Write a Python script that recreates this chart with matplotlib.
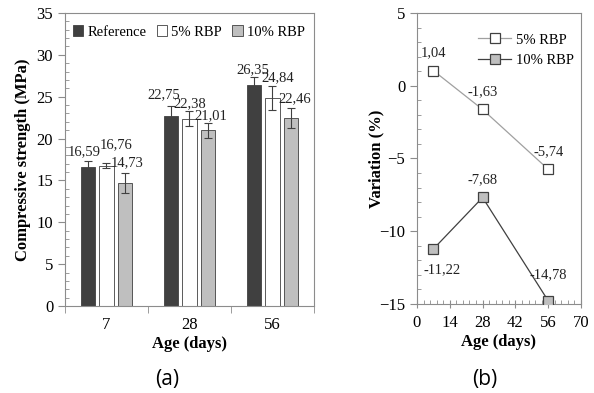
import numpy as np
import matplotlib
matplotlib.use("Agg")
import matplotlib.pyplot as plt
from matplotlib.ticker import MultipleLocator, FixedLocator

plt.rcParams['font.family'] = ['Liberation Serif', 'DejaVu Serif']

# data for panel (a)
ages = ['7', '28', '56']
series = ['Reference', '5% RBP', '10% RBP']
strength = [[16.59, 22.75, 26.35],
            [16.76, 22.38, 24.84],
            [14.73, 21.01, 22.46]]
errors = [[0.7, 1.1, 1.0],
          [0.3, 0.9, 1.4],
          [1.2, 0.9, 1.2]]
bar_colors = ['#404040', '#ffffff', '#bfbfbf']

# data for panel (b)
days = [7, 28, 56]
var_5 = [1.04, -1.63, -5.74]
var_10 = [-11.22, -7.68, -14.78]

# label offsets (points) from the top of each error bar, series x age
label_offs = [[(-3, 7), (-5.5, 8.5), (-1, 5)],
              [(7, 13), (0.5, 5.5), (3.5, 6)],
              [(1.5, 7.5), (2, 5), (3, 7)]]

fig = plt.figure(figsize=(5.94, 3.93), dpi=100)
spine_col = '#8c8c8c'

# ---- panel (a): bars
ax1 = fig.add_axes([0.1094, 0.2214, 0.4192, 0.7455])
x = np.arange(len(ages))
w = 0.17
step = 0.22
for i in range(len(series)):
    pos = x + (i - 1) * step
    ax1.bar(pos, strength[i], w, color=bar_colors[i], edgecolor='#404040',
            linewidth=0.6, label=series[i], zorder=2)
    ax1.errorbar(pos, strength[i], yerr=errors[i], fmt='none', ecolor='#404040',
                 elinewidth=0.8, capsize=3, capthick=0.8, zorder=3)
    for p, v, e, o in zip(pos, strength[i], errors[i], label_offs[i]):
        ax1.annotate(f'{v:.2f}'.replace('.', ','), (p, v + e), xytext=o,
                     textcoords='offset points', ha='center', va='center',
                     fontsize=10.5, color='#222222')

ax1.set_xlim(-0.5, 2.5)
ax1.set_ylim(0, 35)
ax1.set_xticks(x)
ax1.set_xticklabels(ages)
ax1.xaxis.set_minor_locator(FixedLocator([-0.5, 0.5, 1.5, 2.5]))
ax1.yaxis.set_major_locator(MultipleLocator(5))
ax1.yaxis.set_minor_locator(MultipleLocator(1))
ax1.tick_params(axis='x', which='major', direction='in', length=3, labelsize=12, color=spine_col, pad=8)
ax1.tick_params(axis='x', which='minor', direction='out', length=5, color=spine_col)
ax1.tick_params(axis='y', which='major', direction='out', length=5, labelsize=12, color=spine_col)
ax1.tick_params(axis='y', which='minor', direction='in', length=3, color=spine_col)
for s in ax1.spines.values():
    s.set_color(spine_col)
ax1.set_xlabel('Age (days)', fontsize=12, fontweight='bold', labelpad=2)
ax1.set_ylabel('Compressive strength (MPa)', fontsize=12, fontweight='bold', labelpad=4)
ax1.legend(loc='upper left', ncol=3, frameon=False, fontsize=10.5,
           handlelength=0.7, handleheight=0.7, handletextpad=0.3,
           columnspacing=0.7, borderaxespad=0.15, bbox_to_anchor=(0.0, 0.985))

# ---- panel (b): variation
ax2 = fig.add_axes([0.702, 0.2265, 0.2761, 0.7404])
ax2.plot(days, var_5, color='#a0a0a0', linewidth=0.9, marker='s', markersize=7.5,
         markerfacecolor='white', markeredgecolor='#404040', markeredgewidth=0.9,
         label='5% RBP', zorder=3)
ax2.plot(days, var_10, color='#404040', linewidth=0.9, marker='s', markersize=7.5,
         markerfacecolor='#bfbfbf', markeredgecolor='#404040', markeredgewidth=0.9,
         label='10% RBP', zorder=3)
for d, v in zip(days, var_5):
    ax2.annotate(f'{v:.2f}'.replace('.', ','), (d, v), xytext=(0, 13),
                 textcoords='offset points', ha='center', va='center', fontsize=10.5, color='#222222')
offs_10 = [(6, -15), (0, 13), (0, 19)]
for d, v, o in zip(days, var_10, offs_10):
    ax2.annotate(f'{v:.2f}'.replace('.', ','), (d, v), xytext=o,
                 textcoords='offset points', ha='center', va='center', fontsize=10.5, color='#222222')

ax2.set_xlim(0, 70)
ax2.set_ylim(-15, 5)
ax2.xaxis.set_major_locator(MultipleLocator(14))
ax2.xaxis.set_minor_locator(MultipleLocator(2.8))
ax2.yaxis.set_major_locator(MultipleLocator(5))
ax2.yaxis.set_minor_locator(MultipleLocator(1))
ax2.tick_params(axis='x', which='major', direction='inout', length=6, labelsize=12, color=spine_col, pad=5)
ax2.tick_params(axis='x', which='minor', direction='in', length=3, color=spine_col)
ax2.tick_params(axis='y', which='major', direction='out', length=5, labelsize=12, color=spine_col)
ax2.tick_params(axis='y', which='minor', direction='in', length=3, color=spine_col)
for s in ax2.spines.values():
    s.set_color(spine_col)
ax2.set_xlabel('Age (days)', fontsize=12, fontweight='bold', labelpad=2)
ax2.set_ylabel('Variation (%)', fontsize=12, fontweight='bold')
ax2.yaxis.set_label_coords(-0.20, 0.5)
ax2.legend(loc='upper right', frameon=False, fontsize=10.5, handlelength=2.3,
           handletextpad=0.3, borderaxespad=0.1, labelspacing=0.5,
           bbox_to_anchor=(1.0, 0.955))

# panel letters
fig.text(167 / 594, 1 - 380 / 393, '(a)', ha='center', va='center',
         fontsize=15, family=['Open Sans', 'DejaVu Sans'])
fig.text(485 / 594, 1 - 380 / 393, '(b)', ha='center', va='center',
         fontsize=15, family=['Open Sans', 'DejaVu Sans'])

fig.savefig('out.png', dpi=100)
